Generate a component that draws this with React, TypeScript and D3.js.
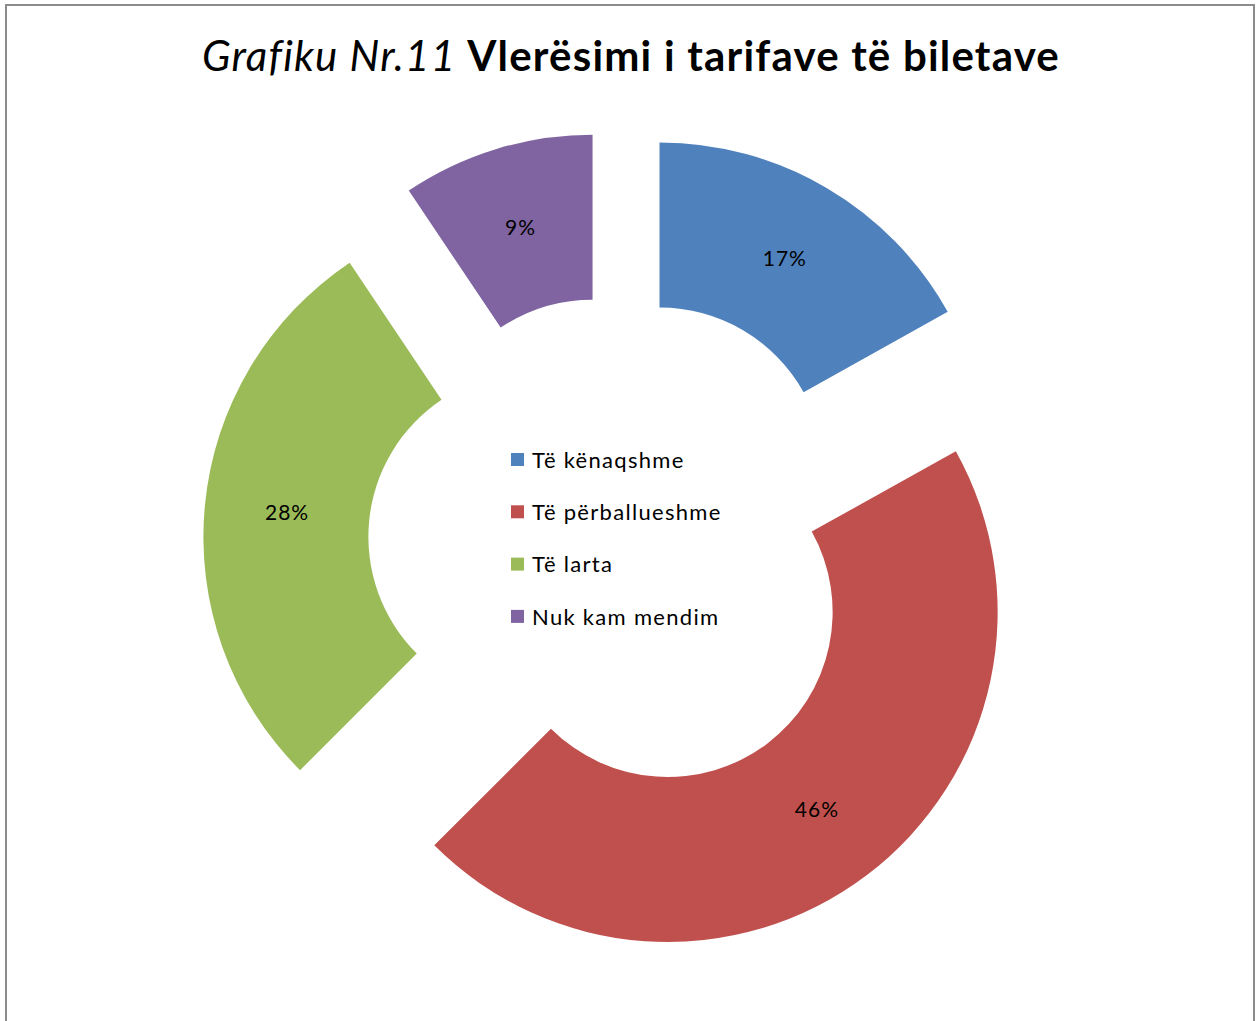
import { useRef, useEffect } from "react";
import * as d3 from "d3";

const categories = ["Të kënaqshme", "Të përballueshme", "Të larta", "Nuk kam mendim"];
const values = [16.9, 45.6, 28.1, 9.4];
const colors = ["#4F81BD", "#C0504D", "#9BBB59", "#8064A2"];

const FONT = "Lato, 'Open Sans', sans-serif";

/** exploded donut chart */
const App = () => {
  const ref = useRef<SVGSVGElement>(null);

  useEffect(() => {
    const svg = d3.select(ref.current);
    svg.selectAll("*").remove();

    // frame
    svg
      .append("rect")
      .attr("x", 6)
      .attr("y", 5)
      .attr("width", 1248)
      .attr("height", 1040)
      .attr("fill", "#fff")
      .attr("stroke", "#8c8c8c")
      .attr("stroke-width", 2);

    // title
    const title = svg
      .append("text")
      .attr("x", 631)
      .attr("y", 71)
      .attr("text-anchor", "middle")
      .style("font-family", FONT)
      .style("font-size", "42px")
      .style("letter-spacing", "1.2px")
      .attr("fill", "#000");
    title.append("tspan").attr("font-style", "italic").text("Grafiku Nr.11 ");
    title.append("tspan").attr("font-weight", "bold").text("Vlerësimi i tarifave të biletave");

    const cx = 617;
    const cy = 545;
    const explode = 84;
    const outer = 330;
    const inner = 165;

    const pie = d3.pie<number>().sort(null).value((d) => d);
    const arc = d3.arc<d3.PieArcDatum<number>>().innerRadius(inner).outerRadius(outer);
    const arcs = pie(values);

    const g = svg.append("g").attr("transform", `translate(${cx},${cy})`);
    const slice = g
      .selectAll("g.slice")
      .data(arcs)
      .enter()
      .append("g")
      .attr("transform", (d) => {
        const a = (d.startAngle + d.endAngle) / 2;
        return `translate(${Math.sin(a) * explode},${-Math.cos(a) * explode})`;
      });

    slice
      .append("path")
      .attr("d", (d) => arc(d))
      .attr("fill", (d, i) => colors[i]);

    slice
      .append("text")
      .attr("transform", (d) => `translate(${arc.centroid(d)})`)
      .attr("text-anchor", "middle")
      .attr("dy", "0.35em")
      .style("font-family", FONT)
      .style("font-size", "21px")
      .style("letter-spacing", "1px")
      .attr("fill", "#000")
      .text((d) => `${Math.round(d.data)}%`);

    // legend
    const legend = svg
      .selectAll("g.legend")
      .data(categories)
      .enter()
      .append("g")
      .attr("transform", (d, i) => `translate(511,${460 + i * 52.3})`);
    legend
      .append("rect")
      .attr("x", 0)
      .attr("y", -7)
      .attr("width", 13)
      .attr("height", 13)
      .attr("fill", (d, i) => colors[i]);
    legend
      .append("text")
      .attr("x", 21)
      .attr("dy", "0.35em")
      .style("font-family", FONT)
      .style("font-size", "22px")
      .style("letter-spacing", "1.3px")
      .attr("fill", "#000")
      .text((d) => d);
  }, []);

  return (
    <svg
      ref={ref}
      width={1257}
      height={1021}
      style={{ position: "absolute", left: 0, top: 0, background: "#fff" }}
    />
  );
};

export default App;
